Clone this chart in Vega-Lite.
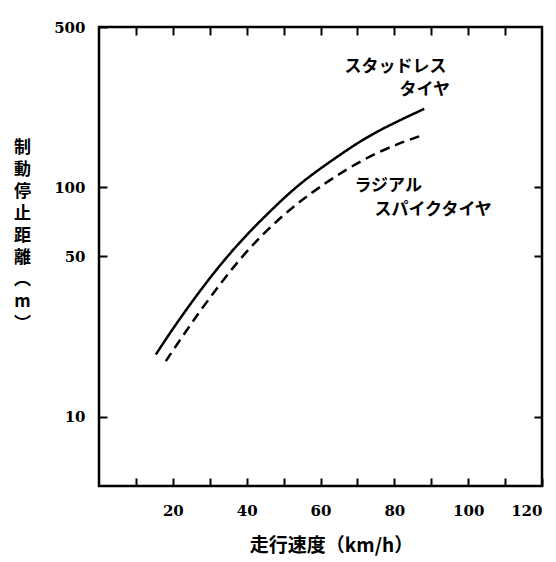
{
  "$schema": "https://vega.github.io/schema/vega-lite/v6.json",
  "autosize": "none",
  "padding": {"left": 99, "top": 27, "right": 14, "bottom": 76},
  "width": 443,
  "height": 459,
  "background": "white",
  "config": {
    "view": {"stroke": "black", "strokeWidth": 2.5},
    "axis": {"domain": false, "grid": false, "tickColor": "black", "tickWidth": 2, "tickSize": -8,
             "labelFont": "DejaVu Serif", "labelFontWeight": "bold", "labelFontSize": 15, "labelColor": "black",
             "titleFont": "Noto Sans CJK JP", "titleFontWeight": "bold", "titleColor": "black"}
  },
  "datasets": {
    "curves": [
      {"tire": "studless", "speed": 15.4, "dist": 18.7},
      {"tire": "studless", "speed": 20, "dist": 24.3},
      {"tire": "studless", "speed": 29, "dist": 38.7},
      {"tire": "studless", "speed": 38, "dist": 57.9},
      {"tire": "studless", "speed": 47, "dist": 80.7},
      {"tire": "studless", "speed": 54.3, "dist": 104},
      {"tire": "studless", "speed": 63.3, "dist": 132},
      {"tire": "studless", "speed": 72.4, "dist": 166},
      {"tire": "studless", "speed": 81.4, "dist": 196},
      {"tire": "studless", "speed": 88.1, "dist": 220},
      {"tire": "spike", "speed": 18.1, "dist": 17.5},
      {"tire": "spike", "speed": 24.6, "dist": 25.1},
      {"tire": "spike", "speed": 33.6, "dist": 39.7},
      {"tire": "spike", "speed": 42.6, "dist": 59.2},
      {"tire": "spike", "speed": 51.6, "dist": 80},
      {"tire": "spike", "speed": 56.1, "dist": 91},
      {"tire": "spike", "speed": 63.3, "dist": 110},
      {"tire": "spike", "speed": 72.4, "dist": 135},
      {"tire": "spike", "speed": 81.4, "dist": 156},
      {"tire": "spike", "speed": 86.8, "dist": 167}
    ],
    "labels": [
      {"label": "スタッドレス", "speed": 66.5, "dist": 335},
      {"label": "タイヤ", "speed": 81.4, "dist": 266},
      {"label": "ラジアル", "speed": 69.2, "dist": 101},
      {"label": "スパイクタイヤ", "speed": 74.6, "dist": 80}
    ]
  },
  "layer": [
    {
      "data": {"name": "curves"},
      "mark": {"type": "line", "color": "black", "strokeWidth": 2.5, "interpolate": "basis"},
      "encoding": {
        "x": {"field": "speed", "type": "quantitative",
              "scale": {"domain": [0, 120], "nice": false, "zero": false},
              "axis": {"orient": "bottom", "values": [10,20,30,40,50,60,70,80,90,100,110,120],
                       "labelExpr": "datum.value % 20 == 0 ? datum.label : ''",
                       "labelFlush": true, "labelPadding": 25, "labelBaseline": "top",
                       "title": "走行速度（km/h）", "titleFontSize": 19, "titleX": 232, "titleY": 59,
                       "titleBaseline": "middle", "titleAnchor": "start", "titleAlign": "center"}},
        "y": {"field": "dist", "type": "quantitative",
              "scale": {"type": "log", "domain": [5, 500], "nice": false},
              "axis": {"orient": "left", "values": [10, 50, 100, 500], "labelPadding": 22,
                       "title": ["制","動","停","止","距","離","︵","m","︶"],
                       "titleAngle": 0, "titleFontSize": 17, "titleLineHeight": 22,
                       "titleAlign": "center", "titleBaseline": "top", "titleAnchor": "start",
                       "titleX": -77, "titleY": 112}},
        "detail": {"field": "tire"},
        "strokeDash": {"field": "tire", "type": "nominal",
                       "scale": {"domain": ["studless", "spike"], "range": [[1, 0], [10, 6]]},
                       "legend": null}
      }
    },
    {
      "data": {"name": "labels"},
      "mark": {"type": "text", "align": "left", "baseline": "middle", "font": "Noto Sans CJK JP",
               "fontWeight": "bold", "fontSize": 17, "color": "black"},
      "encoding": {
        "x": {"field": "speed", "type": "quantitative",
              "axis": {"orient": "top", "values": [10,20,30,40,50,60,70,80,90,100,110], "labels": false, "title": null}},
        "y": {"field": "dist", "type": "quantitative",
              "axis": {"orient": "right", "values": [10, 50, 100], "labels": false, "title": null}},
        "text": {"field": "label"}
      }
    }
  ],
  "resolve": {"axis": {"x": "independent", "y": "independent"}}
}
